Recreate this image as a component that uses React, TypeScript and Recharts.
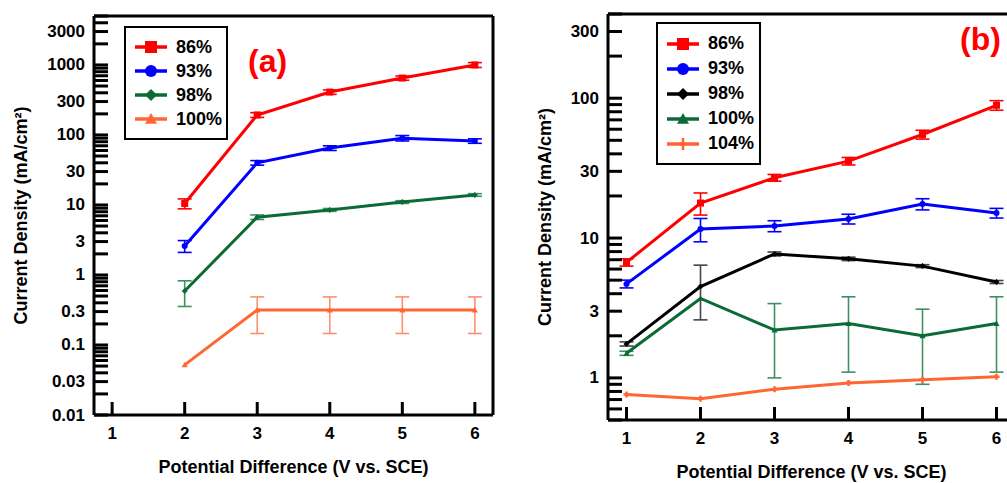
import React from 'react';
import { LineChart, Line, XAxis, YAxis, ErrorBar, Legend, Label, ReferenceLine } from 'recharts';

const FONT = '"Liberation Sans", Arial, Helvetica, sans-serif';

// panel (a): potentials 2–6 V
const potentialsA = [2, 3, 4, 5, 6];
const a86 = [10.5, 193, 410, 650, 1000];
const a86Err = [1.7, 15, 30, 45, 80];
const a93 = [2.6, 40, 65, 90, 82];
const a93Err = [0.5, 3, 5, 8, 6];
const a98 = [0.59, 6.7, 8.5, 11, 13.9];
const a98Err = [0.235, 0.5, 0.4, 0.5, 0.6];
const a100 = [0.052, 0.316, 0.316, 0.316, 0.316];
const a100Err = [0, 0.17, 0.17, 0.17, 0.17];

// panel (b): potentials 1–6 V
const potentialsB = [1, 2, 3, 4, 5, 6];
const b86 = [6.7, 17.8, 27, 35.5, 55, 89];
const b86Err = [0.4, 3.2, 1.5, 2.2, 4, 7];
const b93 = [4.7, 11.6, 12.2, 13.7, 17.5, 15.1];
const b93Err = [0.3, 2.2, 1.1, 1.1, 1.6, 1.2];
const b98 = [1.75, 4.5, 7.7, 7.1, 6.3, 4.85];
const b98Err = [0.06, 1.9, 0.25, 0.2, 0.15, 0.12];
const b100 = [1.5, 3.7, 2.2, 2.45, 2.0, 2.45];
const b100Err = [0.05, 0, 1.2, 1.35, 1.1, 1.35];
const b104 = [0.76, 0.71, 0.83, 0.92, 0.97, 1.02];
const b104Err = [0, 0, 0, 0, 0, 0];

const potentialTicks = [1, 2, 3, 4, 5, 6];
const potentialDomain: [number, number] = [0.75, 6.25];
const labelsA = [0.01, 0.03, 0.1, 0.3, 1, 3, 10, 30, 100, 300, 1000, 3000];
const labelsB = [1, 3, 10, 30, 100, 300];

type Shape = 'square' | 'circle' | 'diamond' | 'triangle' | 'plus';

interface Series {
  name: string;
  values: number[];
  errors: number[];
  color: string;
  errColor: string;
  shape: Shape;
}

const RED = '#ff0000';
const BLUE = '#0000ff';
const GREEN = '#0b6b36';
const ORANGE = '#ff6633';

const seriesA: Series[] = [
  { name: '86%', values: a86, errors: a86Err, color: RED, errColor: RED, shape: 'square' },
  { name: '93%', values: a93, errors: a93Err, color: BLUE, errColor: BLUE, shape: 'circle' },
  { name: '98%', values: a98, errors: a98Err, color: GREEN, errColor: '#3f8f63', shape: 'diamond' },
  { name: '100%', values: a100, errors: a100Err, color: ORANGE, errColor: '#ff8f70', shape: 'triangle' },
];

const seriesB: Series[] = [
  { name: '86%', values: b86, errors: b86Err, color: RED, errColor: RED, shape: 'square' },
  { name: '93%', values: b93, errors: b93Err, color: BLUE, errColor: BLUE, shape: 'circle' },
  { name: '98%', values: b98, errors: b98Err, color: '#000000', errColor: '#444444', shape: 'diamond' },
  { name: '100%', values: b100, errors: b100Err, color: GREEN, errColor: '#3f8f63', shape: 'triangle' },
  { name: '104%', values: b104, errors: b104Err, color: ORANGE, errColor: ORANGE, shape: 'plus' },
];

// 1..9 × 10^n ticks inside a log domain
const logTicks = (lo: number, hi: number) => {
  const out: number[] = [];
  for (let e = -3; e <= 4; e++) {
    for (let m = 1; m <= 9; m++) {
      const v = Number((m * 10 ** e).toPrecision(3));
      if (v >= lo && v <= hi) out.push(v);
    }
  }
  return out;
};

const buildRows = (xs: number[], series: Series[]) =>
  xs.map((v, i) => {
    const row: Record<string, number> = { v };
    series.forEach((s, k) => {
      row[`s${k}`] = s.values[i];
      row[`e${k}`] = s.errors[i];
    });
    return row;
  });

const Marker = ({ shape, cx, cy, size, color }: { shape: Shape; cx: number; cy: number; size: number; color: string }) => {
  const h = size / 2;
  switch (shape) {
    case 'square':
      return <rect x={cx - h} y={cy - h} width={size} height={size} fill={color} />;
    case 'circle':
      return <circle cx={cx} cy={cy} r={h} fill={color} />;
    case 'diamond':
      return <polygon points={`${cx},${cy - h} ${cx + h},${cy} ${cx},${cy + h} ${cx - h},${cy}`} fill={color} />;
    case 'triangle':
      return <polygon points={`${cx},${cy - h} ${cx + h},${cy + h * 0.8} ${cx - h},${cy + h * 0.8}`} fill={color} />;
    default:
      return <path d={`M${cx - h},${cy}H${cx + h}M${cx},${cy - h}V${cy + h}`} stroke={color} strokeWidth={2.5} />;
  }
};

const LegendBox = ({ series, width, rowGap }: { series: Series[]; width: number; rowGap: number }) => (
  <div
    style={{
      width,
      boxSizing: 'border-box',
      border: '2.5px solid #000',
      background: '#fff',
      padding: '7px 0 7px 8px',
      fontFamily: FONT,
      fontWeight: 'bold',
      fontSize: 18,
    }}
  >
    {series.map((s) => (
      <div key={s.name} style={{ display: 'flex', alignItems: 'center', height: rowGap }}>
        <svg width={34} height={16} style={{ marginRight: 8 }}>
          <line x1={1} x2={33} y1={8} y2={8} stroke={s.color} strokeWidth={3.5} />
          <Marker shape={s.shape} cx={17} cy={8} size={12} color={s.color} />
        </svg>
        <span>{s.name}</span>
      </div>
    ))}
  </div>
);

interface PanelProps {
  series: Series[];
  xs: number[];
  left: number;
  width: number;
  margin: { top: number; right: number; bottom: number; left: number };
  xAxisHeight: number;
  yDomain: [number, number];
  yLabels: number[];
  yTitleX: number;
  legendPos: { left: number; top: number; width: number; rowGap: number };
  tag: string;
  tagPos: { left: number; top: number };
}

const HEIGHT = 483;
const Y_AXIS_W = 80;

const Panel = (p: PanelProps) => {
  const axisX = p.margin.left + Y_AXIS_W;
  const axisY = HEIGHT - p.margin.bottom - p.xAxisHeight;
  const plotMidX = (axisX + p.width - p.margin.right) / 2;
  const plotMidY = (p.margin.top + axisY) / 2;
  const rows = buildRows(p.xs, p.series);
  const yTicks = logTicks(p.yDomain[0], p.yDomain[1]);
  const textStyle = { fontFamily: FONT, fontWeight: 'bold' as const, fill: '#000' };

  const yTick = (props: any) => {
    const { y, payload } = props;
    const v = payload.value as number;
    return (
      <g>
        <line x1={axisX} x2={axisX + 14} y1={y} y2={y} stroke="#000" strokeWidth={3} />
        {p.yLabels.includes(v) && (
          <text x={axisX - 9} y={y} textAnchor="end" dominantBaseline="central" fontSize={17} style={textStyle}>
            {String(v)}
          </text>
        )}
      </g>
    );
  };

  const xTick = (props: any) => {
    const { x, payload } = props;
    return (
      <g>
        <line x1={x} x2={x} y1={axisY} y2={axisY - 13} stroke="#000" strokeWidth={3} />
        <text x={x} y={axisY + 18} textAnchor="middle" dominantBaseline="central" fontSize={17} style={textStyle}>
          {payload.value}
        </text>
      </g>
    );
  };

  return (
    <div style={{ position: 'absolute', left: p.left, top: 0, width: p.width, height: HEIGHT }}>
      <LineChart width={p.width} height={HEIGHT} data={rows} margin={p.margin}>
        <XAxis
          dataKey="v"
          type="number"
          domain={potentialDomain}
          ticks={potentialTicks}
          interval={0}
          allowDataOverflow
          height={p.xAxisHeight}
          tickSize={0}
          tickLine={false}
          tick={xTick}
          axisLine={{ stroke: '#000', strokeWidth: 3 }}
        >
          <Label
            content={() => (
              <text x={plotMidX} y={axisY + 52} textAnchor="middle" dominantBaseline="central" fontSize={18} style={textStyle}>
                Potential Difference (V vs. SCE)
              </text>
            )}
          />
        </XAxis>
        <YAxis
          type="number"
          scale="log"
          domain={p.yDomain}
          ticks={yTicks}
          interval={0}
          allowDataOverflow
          width={Y_AXIS_W}
          tickSize={0}
          tickLine={false}
          tick={yTick}
          axisLine={{ stroke: '#000', strokeWidth: 3 }}
        >
          <Label
            content={() => (
              <text
                x={p.yTitleX}
                y={plotMidY}
                transform={`rotate(-90, ${p.yTitleX}, ${plotMidY})`}
                textAnchor="middle"
                dominantBaseline="central"
                fontSize={18}
                style={textStyle}
              >
                Current Density (mA/cm²)
              </text>
            )}
          />
        </YAxis>
        {/* closing frame: top and right edges */}
        <ReferenceLine y={p.yDomain[1]} stroke="#000" strokeWidth={3} ifOverflow="visible" />
        <ReferenceLine x={potentialDomain[1]} stroke="#000" strokeWidth={3} ifOverflow="visible" />
        {p.series.map((s, k) => (
          <Line
            key={s.name}
            dataKey={`s${k}`}
            name={s.name}
            stroke={s.color}
            strokeWidth={3}
            isAnimationActive={false}
            activeDot={false}
            dot={(d: any) =>
              d.cx == null || d.cy == null ? (
                <g key={`d${k}-${d.index}`} />
              ) : (
                <Marker key={`d${k}-${d.index}`} shape={s.shape} cx={d.cx} cy={d.cy} size={s.shape === 'square' ? 7 : 6} color={s.color} />
              )
            }
          >
            <ErrorBar dataKey={`e${k}`} direction="y" width={7} stroke={s.errColor} strokeWidth={1.6} />
          </Line>
        ))}
        <Legend
          layout="horizontal"
          verticalAlign="middle"
          align="center"
          wrapperStyle={{ left: p.legendPos.left, top: p.legendPos.top, width: 'auto' }}
          content={() => <LegendBox series={p.series} width={p.legendPos.width} rowGap={p.legendPos.rowGap} />}
        />
      </LineChart>
      <div
        style={{
          position: 'absolute',
          left: p.tagPos.left,
          top: p.tagPos.top,
          color: RED,
          fontFamily: FONT,
          fontWeight: 'bold',
          fontSize: 32,
          lineHeight: '32px',
        }}
      >
        {p.tag}
      </div>
    </div>
  );
};

export default function App() {
  return (
    <div style={{ position: 'absolute', left: 0, top: 0, width: 1007, height: HEIGHT, overflow: 'hidden', background: '#fff' }}>
      <Panel
        series={seriesA}
        xs={potentialsA}
        left={0}
        width={510}
        margin={{ top: 16, right: 17, bottom: 0, left: 14 }}
        xAxisHeight={68}
        yDomain={[0.01, 5000]}
        yLabels={labelsA}
        yTitleX={21}
        legendPos={{ left: 124, top: 26, width: 104, rowGap: 24 }}
        tag="(a)"
        tagPos={{ left: 248, top: 45 }}
      />
      <Panel
        series={seriesB}
        xs={potentialsB}
        left={515}
        width={520}
        margin={{ top: 14, right: 20, bottom: 0, left: 13 }}
        xAxisHeight={63}
        yDomain={[0.5, 400]}
        yLabels={labelsB}
        yTitleX={30}
        legendPos={{ left: 141, top: 22, width: 105, rowGap: 25 }}
        tag="(b)"
        tagPos={{ left: 445, top: 23 }}
      />
    </div>
  );
}
